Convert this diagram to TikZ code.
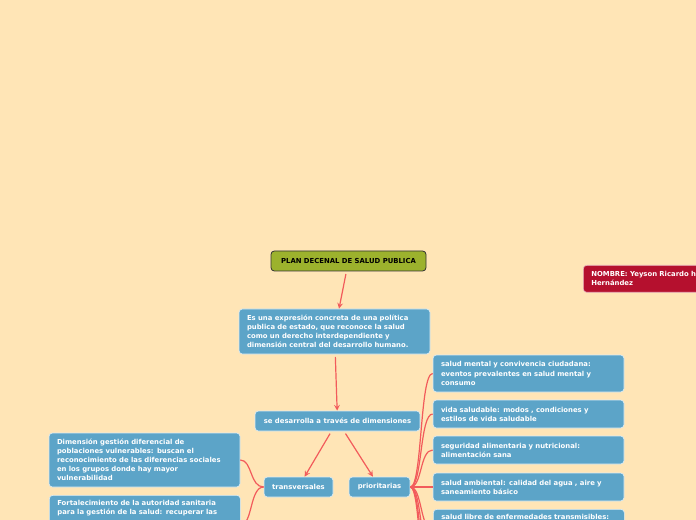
\documentclass[tikz,border=0pt]{standalone}
\usepackage{fontspec}
\setmainfont{DejaVu Sans}
\usepackage{xcolor}
\usepackage{tikz}
\usetikzlibrary{shapes,arrows,positioning}

\definecolor{paper}{HTML}{FFE5B6}
\definecolor{boxblue}{HTML}{5CA4C8}
\definecolor{linkred}{HTML}{F25B5B}
\definecolor{titlegreen}{HTML}{9CB22D}
\definecolor{namered}{HTML}{B5102E}

\begin{document}
\begin{tikzpicture}[
    x=0.75pt, y=-0.75pt,
    every node/.style={font=\fontsize{5.15}{6.8}\selectfont\bfseries},
    blk/.style={rectangle, rounded corners=2.5pt, draw=white!80!boxblue, line width=0.5pt, fill=boxblue, text=white, align=left, inner xsep=6pt, inner ysep=2pt, text width=131.25pt},
    tag/.style={rectangle, rounded corners=2.5pt, draw=white!80!boxblue, line width=0.5pt, fill=boxblue, text=white, align=center, minimum height=15pt, inner xsep=2pt},
    arrow/.style={->, >=stealth, linkred, line width=0.9pt, shorten <=2pt},
    link/.style={linkred, line width=0.9pt}
]
\useasboundingbox (0,0) rectangle (696,520);
\clip (0,0) rectangle (696,520);
\fill[paper] (0,0) rectangle (696,520);

% Title
\node[rectangle, rounded corners=2.5pt, draw=black!80, line width=0.6pt, fill=titlegreen, minimum width=116.25pt, minimum height=15pt] (title) at (348.5,261) {PLAN DECENAL DE SALUD PUBLICA};

% Name
\node[rectangle, rounded corners=2.5pt, draw=white!70!namered, line width=0.5pt, fill=namered, text=white, align=left, anchor=north west, text width=118pt, minimum height=20.25pt, inner xsep=6pt] (name) at (583,265) {NOMBRE: Yeyson Ricardo h\\Hernández};

% Definition
\node[blk, minimum height=33.75pt] (expr) at (334.5,331.5) {Es una expresión concreta de una política\\publica de estado, que reconoce la salud\\como un derecho interdependiente y\\dimensión central del desarrollo humano.};

% Dimensions
\node[tag, minimum width=123.75pt] (dim) at (337.5,421) {se desarrolla a través de dimensiones};
\node[tag, minimum width=51.75pt] (trans) at (298.5,487) {transversales};
\node[tag, minimum width=45.75pt] (prio) at (379.5,487) {prioritarias};

% Transversales
\node[blk, minimum height=40.5pt] (gdif) at (144.5,460) {Dimensión gestión diferencial de\\poblaciones vulnerables: buscan el\\reconocimiento de las diferencias sociales\\en los grupos donde hay mayor\\vulnerabilidad};
\node[blk, anchor=north west, inner ysep=4pt, text depth=24pt] (auto) at (49,495) {Fortalecimiento de la autoridad sanitaria\\para la gestión de la salud: recuperar las};

% Prioritarias
\node[blk, minimum height=27.75pt] (mental) at (528.5,373.5) {salud mental y convivencia ciudadana:\\eventos prevalentes en salud mental y\\consumo};
\node[blk, minimum height=21pt] (vida) at (528.5,414) {vida saludable: modos , condiciones y\\estilos de vida saludable};
\node[blk, minimum height=21pt] (alim) at (528.5,450) {seguridad alimentaria y nutricional:\\alimentación sana};
\node[blk, minimum height=21pt] (amb) at (528.5,487) {salud ambiental: calidad del agua , aire y\\saneamiento básico};
\node[blk, anchor=north west, inner ysep=4pt, text depth=20pt] (transm) at (433,509) {salud libre de enfermedades transmisibles:};
\coordinate (more1) at (433,560);
\coordinate (more2) at (433,600);
\coordinate (more3) at (433,640);

% Arrows
\draw[arrow] (title) -- (expr);
\draw[arrow] (expr) -- (dim);
\draw[arrow] (dim) -- (trans);
\draw[arrow] (dim) -- (prio);

% Branches
\draw[link] (trans.west) .. controls +(-14,0) and +(12,0) .. (gdif.east);
\draw[link] (trans.west) .. controls +(-14,0) and +(12,0) .. ([yshift=-22.5pt]auto.north east);
\foreach \b in {mental.west,vida.west,alim.west,amb.west,transm.west,more1,more2,more3}
  \draw[link] (prio.east) .. controls +(12,0) and +(-13,0) .. (\b);

\end{tikzpicture}
\end{document}
